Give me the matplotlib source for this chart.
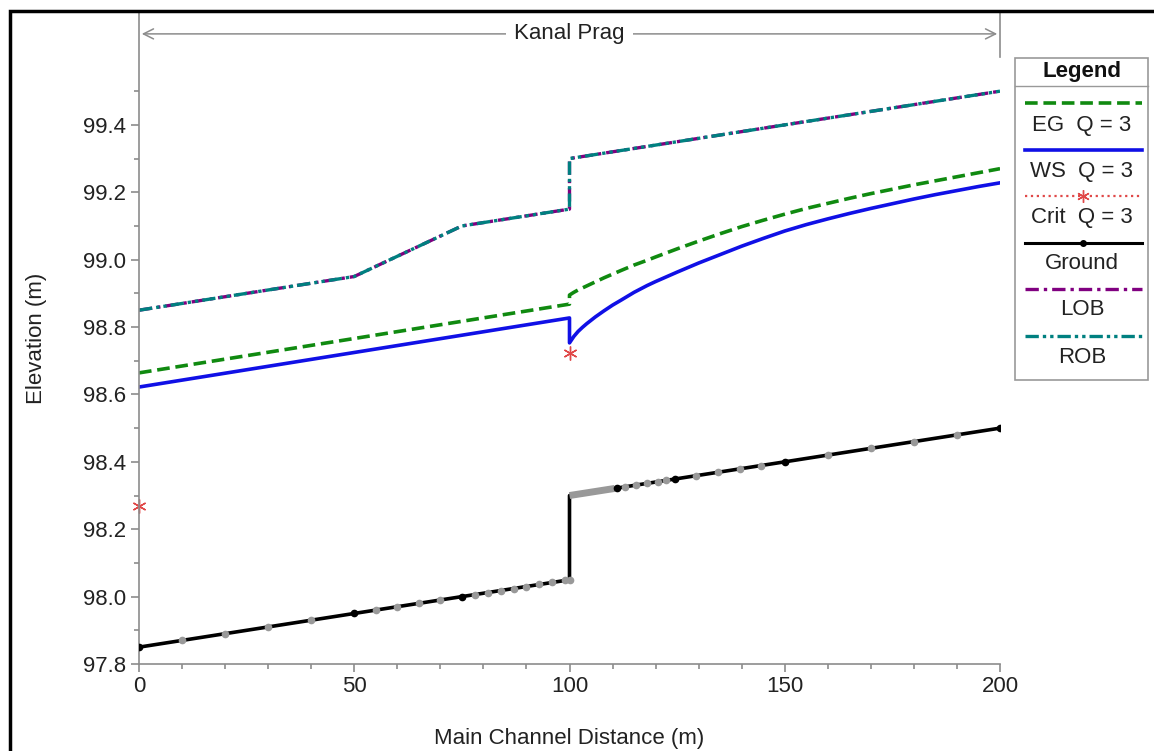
import numpy as np
import matplotlib.pyplot as plt
from matplotlib.lines import Line2D
from matplotlib.patches import Rectangle
from matplotlib.ticker import MultipleLocator, FixedLocator

plt.rcParams['font.family'] = ['Liberation Sans', 'DejaVu Sans']

W, H = 1154, 751

# ---- data ----
eg_x = [0, 100, 100, 101, 102, 104, 106, 108, 110, 112, 115, 118, 120, 125, 130, 135, 140,
        145, 150, 155, 160, 165, 170, 175, 180, 185, 190, 195, 200]
eg_y = [98.664, 98.868, 98.895, 98.903, 98.91, 98.922, 98.934, 98.946, 98.957, 98.968,
        98.984, 98.998, 99.008, 99.032, 99.055, 99.077, 99.098, 99.117, 99.135, 99.152,
        99.167, 99.182, 99.196, 99.209, 99.222, 99.234, 99.246, 99.258, 99.27]

ws_x = [0, 100, 100, 101, 102, 103, 104, 105, 106, 108, 110, 112, 115, 118, 120, 125, 130,
        135, 140, 145, 150, 155, 160, 165, 170, 175, 180, 185, 190, 195, 200]
ws_y = [98.622, 98.827, 98.753, 98.772, 98.787, 98.799, 98.81, 98.82, 98.83, 98.848, 98.865,
        98.88, 98.903, 98.923, 98.935, 98.963, 98.99, 99.015, 99.04, 99.063, 99.085, 99.104,
        99.121, 99.137, 99.152, 99.166, 99.18, 99.193, 99.205, 99.217, 99.228]

crit_x = [0, 100]
crit_y = [98.27, 98.723]

bank_x = [0, 50, 75, 100, 100, 200]
bank_y = [98.85, 98.95, 99.10, 99.15, 99.30, 99.50]

ground_x = [0, 50, 75, 100, 100, 111, 124.5, 150, 200]
ground_y = [97.85, 97.95, 98.00, 98.05, 98.30, 98.322, 98.349, 98.40, 98.50]

xs_x = [0, 50, 75, 111, 124.5, 150, 200]          # surveyed sections
xs_y = [97.85, 97.95, 98.00, 98.322, 98.349, 98.40, 98.50]

interp_x = [10, 20, 30, 40, 55, 60, 65, 70, 78, 81, 84, 87, 90, 93, 96, 99, 100,
            113, 115.5, 118, 120.5, 122.5, 129.5, 134.5, 139.5, 144.5, 160, 170, 180, 190]
interp_y = [97.87, 97.89, 97.91, 97.93, 97.96, 97.97, 97.98, 97.99, 98.006, 98.012, 98.018,
            98.024, 98.03, 98.036, 98.042, 98.048, 98.05,
            98.326, 98.331, 98.336, 98.341, 98.345, 98.359, 98.369, 98.379, 98.389,
            98.42, 98.44, 98.46, 98.48]
dense_x = [100, 110.5]
dense_y = [98.30, 98.321]

reach_name = 'Kanal Prag'
legend_labels = ['EG  Q = 3', 'WS  Q = 3', 'Crit  Q = 3', 'Ground', 'LOB', 'ROB']

# ---- figure ----
fig = plt.figure(figsize=(W / 100, H / 100), dpi=100)
ax = fig.add_axes([139 / W, 1 - 664 / H, (1000 - 139) / W, (664 - 13) / H])

gray = '#8c8c8c'
crit_col = '#e04848'
sty = dict(
    eg=dict(color='#108a10', lw=2.6, ls=(0, (3.5, 1.6))),
    ws=dict(color='#1010e6', lw=2.6, ls='-'),
    crit=dict(color=crit_col, lw=1.6, ls=':', marker=(6, 2, 0), ms=9, mew=1.0),
    ground=dict(color='black', lw=2.2, ls='-', marker='o', ms=4),
    lob=dict(color='#800080', lw=2.4, ls=(0, (4, 1.5, 1, 1.5))),
    rob=dict(color='#008080', lw=2.4, ls=(0, (4, 1.2, 1, 1.2, 1, 1.2))),
)

ax.plot(bank_x, bank_y, **sty['lob'])
ax.plot(bank_x, bank_y, **sty['rob'])
ax.plot(eg_x, eg_y, **sty['eg'])
ax.plot(ws_x, ws_y, **sty['ws'])
ax.plot(crit_x, crit_y, ls='none', marker=(6, 2, 0), ms=10, mew=1.0, color=crit_col,
        clip_on=False)
ax.plot(ground_x, ground_y, color='black', lw=2.6, zorder=3)
ax.plot(dense_x, dense_y, color='#999999', lw=5, solid_capstyle='butt', zorder=4)
ax.plot(interp_x, interp_y, ls='none', marker='o', ms=4.5, color='#999999', zorder=4)
ax.plot(xs_x, xs_y, ls='none', marker='o', ms=4.5, color='black', zorder=5)

ax.set_xlim(0, 200)
ax.set_ylim(97.8, 99.732)
ax.xaxis.set_major_locator(MultipleLocator(50))
ax.xaxis.set_minor_locator(MultipleLocator(10))
ax.yaxis.set_major_locator(FixedLocator(np.arange(97.8, 99.41, 0.2)))
ax.yaxis.set_minor_locator(FixedLocator(np.arange(97.9, 99.51, 0.2)))
ax.yaxis.set_major_formatter(plt.FuncFormatter(lambda v, p: f'{v:.1f}'))

for s in ['top', 'right']:
    ax.spines[s].set_visible(False)
for s in ['left', 'bottom']:
    ax.spines[s].set_color(gray)
    ax.spines[s].set_linewidth(1.2)
ax.tick_params(which='both', direction='out', color=gray, width=1.2, labelsize=16,
               labelcolor='#222222')
ax.tick_params(which='major', length=6, pad=3)
ax.tick_params(which='minor', length=3.5)

ax.set_xlabel('Main Channel Distance (m)', fontsize=16, color='#222222', labelpad=22)
ax.set_ylabel('Elevation (m)', fontsize=16, color='#222222', labelpad=26)

# reach annotation
ax.annotate('', xy=(0, 99.67), xytext=(200, 99.67),
            arrowprops=dict(arrowstyle='<->', color=gray, lw=1.1,
                            mutation_scale=18), annotation_clip=False)
ax.text(100, 99.67, reach_name, ha='center', va='center', fontsize=16, color='#222222',
        bbox=dict(facecolor='white', edgecolor='none', pad=6))
ax.plot([200, 200], [99.60, 99.732], color=gray, lw=1.2, clip_on=False)

# outer frame
fig.patches.append(Rectangle((10 / W, -0.2), 1.2, 1 - 11 / H + 0.2, transform=fig.transFigure,
                             fill=False, edgecolor='black', lw=2.5))


# legend drawn as a stacked box
def fx(px):
    return px / W


def fy(py):
    return 1 - py / H


fig.patches.append(Rectangle((fx(1015), fy(380)), fx(1148) - fx(1015), fy(58) - fy(380),
                             transform=fig.transFigure, facecolor='white',
                             edgecolor='#999999', lw=1.2, zorder=5))
fig.text(fx(1082), fy(72), 'Legend', ha='center', va='center', fontsize=16,
         fontweight='bold', color='#111111', zorder=6)
fig.add_artist(Line2D([fx(1015), fx(1148)], [fy(86), fy(86)], color='#999999', lw=1.0,
                      transform=fig.transFigure, zorder=6))
keys = ['eg', 'ws', 'crit', 'ground', 'lob', 'rob']
line_y = [103, 150, 196, 243, 289, 336]
text_y = [125, 171, 217, 263, 309, 357]
for k, lab, ly, ty in zip(keys, legend_labels, line_y, text_y):
    kw = dict(sty[k])
    mk = kw.pop('marker', None)
    ms = kw.pop('ms', None)
    mew = kw.pop('mew', None)
    fig.add_artist(Line2D([fx(1025), fx(1142)], [fy(ly), fy(ly)], transform=fig.transFigure,
                          zorder=6, **kw))
    if mk is not None:
        fig.add_artist(Line2D([fx(1083)], [fy(ly)], transform=fig.transFigure, ls='none',
                              marker=mk, ms=ms, color=kw['color'],
                              mew=mew if mew else 1, zorder=7))
    fig.text(fx(1082), fy(ty), lab, ha='center', va='center', fontsize=16,
             color='#222222', zorder=6)

fig.savefig('out.png', dpi=100, facecolor='white')
